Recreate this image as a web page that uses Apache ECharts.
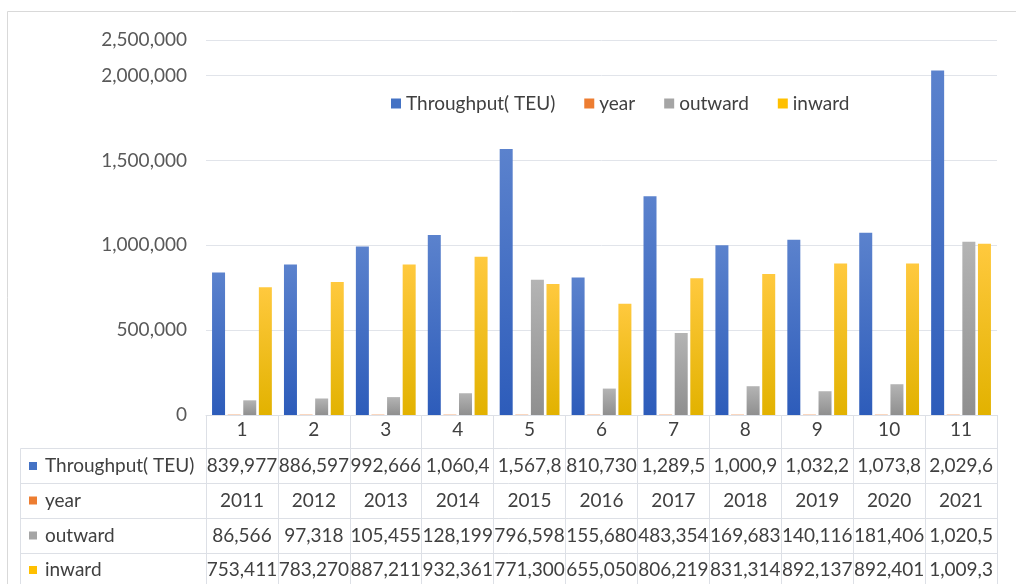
<!DOCTYPE html>
<html>
<head>
<meta charset="utf-8">
<script src="https://cdn.jsdelivr.net/npm/echarts@6/dist/echarts.min.js"></script>
<style>
html,body{margin:0;padding:0;background:#fff;}
#chart{width:1016px;height:584px;}
</style>
</head>
<body>
<div id="chart"></div>
<script>
// ---- data ----
var categories = ['1','2','3','4','5','6','7','8','9','10','11'];
var years = [2011,2012,2013,2014,2015,2016,2017,2018,2019,2020,2021];
var throughput = [839977,886597,992666,1060400,1567800,810730,1289500,1000900,1032200,1073800,2029600];
var outward = [86566,97318,105455,128199,796598,155680,483354,169683,140116,181406,1020500];
var inward = [753411,783270,887211,932361,771300,655050,806219,831314,892137,892401,1009300];
var seriesNames = ['Throughput( TEU)','year','outward','inward'];
var yTickLabels = ['0','500,000','1,000,000','1,500,000','2,000,000','2,500,000'];

// ---- layout/style ----
var W = 1016, H = 584;
var gridLeft = 206, gridRight = 997, gridTop = 40, gridBottom = 415;
var FONT = 'Lato';
var FS = 19;
var TXT = '#404040';
var LINE = '#dde0e6';
var solid = ['#4472c4','#ed7d31','#a5a5a5','#ffc000'];
function grad(top, bottom){
  return {type:'linear',x:0,y:0,x2:0,y2:1,colorStops:[{offset:0,color:top},{offset:1,color:bottom}]};
}
var fills = [grad('#5b82cd','#2d5cba'), grad('#f08a45','#d9691f'), grad('#b4b4b4','#8f8f8f'), grad('#ffc93e','#e2b200')];

function fmt(v){ return v.toString().replace(/\B(?=(\d{3})+(?!\d))/g, ','); }
function cell(s){ return s.length > 7 ? s.slice(0,7) : s; }

var rows = [
  throughput.map(function(v){return cell(fmt(v));}),
  years.map(function(v){return String(v);}),
  outward.map(function(v){return cell(fmt(v));}),
  inward.map(function(v){return cell(fmt(v));})
];
var rowLines = [448, 483, 518, 553];
var rowCenters = [466, 500.5, 535.5, 570];

var xAxes = [{
  type:'category', data:categories, gridIndex:0,
  axisLine:{show:true, lineStyle:{color:LINE, width:1}},
  axisTick:{show:true, interval:0, length:H - gridBottom + 5, lineStyle:{color:LINE}},
  axisLabel:{color:TXT, fontFamily:FONT, fontSize:FS, margin:15, verticalAlign:'middle', interval:0},
  splitLine:{show:false}
}];
rows.forEach(function(r, i){
  xAxes.push({
    type:'category', data:r, gridIndex:0, position:'bottom',
    offset: rowCenters[i] - gridBottom,
    axisLine:{show:false}, axisTick:{show:false}, splitLine:{show:false},
    axisLabel:{color:TXT, fontFamily:FONT, fontSize:FS, margin:0, verticalAlign:'middle', interval:0, hideOverlap:false}
  });
});

var graphic = [
  {type:'line', shape:{x1:7.5,y1:11.5,x2:W,y2:11.5}, style:{stroke:'#d9d9d9',lineWidth:1}},
  {type:'line', shape:{x1:7.5,y1:11.5,x2:7.5,y2:H}, style:{stroke:'#d9d9d9',lineWidth:1}},
  {type:'line', shape:{x1:20.5,y1:rowLines[0]+0.5,x2:20.5,y2:H}, style:{stroke:LINE,lineWidth:1}}
];
rowLines.forEach(function(y){
  graphic.push({type:'line', shape:{x1:20.5,y1:y+0.5,x2:gridRight,y2:y+0.5}, style:{stroke:LINE,lineWidth:1}});
});
seriesNames.forEach(function(n, i){
  graphic.push({type:'rect', shape:{x:29,y:rowCenters[i]-4,width:8,height:8}, style:{fill:solid[i]}});
  graphic.push({type:'text', x:45, y:rowCenters[i], style:{text:n, fill:TXT, font:FS + 'px ' + FONT, verticalAlign:'middle', align:'left'}});
});

var seriesData = [throughput, years, outward, inward];
var series = seriesNames.map(function(n, i){
  return {
    name:n, type:'bar', xAxisIndex:0, yAxisIndex:0,
    data:seriesData[i], barWidth:13, barGap:'20%',
    itemStyle:{color:fills[i]}, emphasis:{disabled:true}
  };
});

var chart = echarts.init(document.getElementById('chart'), null, {renderer:'canvas'});
chart.setOption({
  animation:false,
  backgroundColor:'#ffffff',
  textStyle:{fontFamily:FONT},
  grid:{left:gridLeft, right:W - gridRight, top:gridTop, bottom:H - gridBottom, containLabel:false},
  legend:{
    left:386, top:89, itemWidth:10, itemHeight:10, itemGap:29,
    textStyle:{color:TXT, fontFamily:FONT, fontSize:FS},
    data: seriesNames.map(function(n,i){ return {name:n, icon:'rect', itemStyle:{color:solid[i]}}; })
  },
  xAxis: xAxes,
  yAxis:{
    type:'value', min:0, max:2210000, interval:500000,
    axisLine:{show:false}, axisTick:{show:false},
    splitLine:{show:true, lineStyle:{color:'#e1e4ea', width:1}},
    axisLabel:{color:'#595959', fontFamily:FONT, fontSize:FS, margin:19,
      formatter:function(v){ var k = Math.min(Math.round(v/500000), 5); return v > 2000000 ? yTickLabels[5] : yTickLabels[k]; }}
  },
  graphic: graphic,
  series: series
});
</script>
</body>
</html>
